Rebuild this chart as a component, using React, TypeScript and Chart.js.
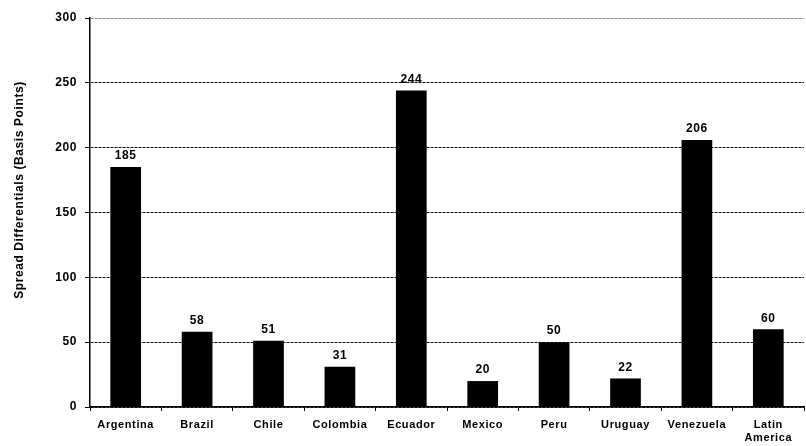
import React, { useEffect, useRef } from "react";
import { Chart, registerables } from "chart.js";

Chart.register(...registerables);

const categories: (string | string[])[] = [
  "Argentina",
  "Brazil",
  "Chile",
  "Colombia",
  "Ecuador",
  "Mexico",
  "Peru",
  "Uruguay",
  "Venezuela",
  ["Latin", "America"],
];
const spreadValues = [185, 58, 51, 31, 244, 20, 50, 22, 206, 60];
const yTicks = [0, 50, 100, 150, 200, 250, 300];
const yTitle = "Spread Differentials (Basis Points)";

const FONT = "'Liberation Sans', Arial, sans-serif";

// Slightly wider letter spacing for all chart text
const textSpacing = {
  id: "textSpacing",
  beforeDraw(chart: any) {
    (chart.ctx as any).letterSpacing = "0.6px";
  },
};

// Value labels above each bar
const valueLabels = {
  id: "valueLabels",
  afterDatasetsDraw(chart: any) {
    const ctx = chart.ctx;
    const meta = chart.getDatasetMeta(0);
    ctx.save();
    ctx.fillStyle = "#000";
    ctx.font = `bold 12px ${FONT}`;
    ctx.textAlign = "center";
    ctx.textBaseline = "bottom";
    meta.data.forEach((bar: any, i: number) => {
      ctx.fillText(String(spreadValues[i]), bar.x, bar.y - 5);
    });
    ctx.restore();
  },
};

// Rotated y-axis title
const axisTitle = {
  id: "axisTitle",
  afterDraw(chart: any) {
    const ctx = chart.ctx;
    ctx.save();
    ctx.translate(20, 190);
    ctx.rotate(-Math.PI / 2);
    ctx.fillStyle = "#000";
    ctx.font = `bold 12px ${FONT}`;
    ctx.textAlign = "center";
    ctx.textBaseline = "middle";
    ctx.fillText(yTitle, 0, 0);
    ctx.restore();
  },
};

export default function App() {
  const canvasRef = useRef<HTMLCanvasElement | null>(null);

  useEffect(() => {
    if (!canvasRef.current) return;
    const chart = new Chart(canvasRef.current, {
      type: "bar",
      data: {
        labels: categories,
        datasets: [
          {
            data: spreadValues,
            backgroundColor: "#000",
            borderWidth: 0,
            categoryPercentage: 1,
            barPercentage: 0.43,
          },
        ],
      },
      options: {
        animation: false,
        responsive: false,
        maintainAspectRatio: false,
        layout: { padding: { top: 18, right: 2, left: 0, bottom: 0 } },
        plugins: {
          legend: { display: false },
          tooltip: { enabled: false },
        },
        scales: {
          x: {
            offset: true,
            grid: {
              offset: true,
              drawOnChartArea: false,
              drawTicks: true,
              tickLength: 4,
              color: "#000",
            },
            border: { display: true, color: "#000", width: 1.5 },
            ticks: {
              color: "#000",
              font: { family: FONT, size: 11, weight: "bold" },
              padding: 7,
              maxRotation: 0,
              autoSkip: false,
            },
            afterFit(scale: any) {
              scale.height = 39;
            },
          },
          y: {
            min: 0,
            max: 300,
            afterBuildTicks(scale: any) {
              scale.ticks = yTicks.map((v) => ({ value: v }));
            },
            grid: {
              color: (c: any) => (c.tick && c.tick.value === 300 ? "#888" : "#111"),
              lineWidth: 1,
              tickLength: 5,
              tickColor: "#000",
            },
            border: { display: true, color: "#000", width: 1.5, dash: [3, 1] },
            ticks: {
              color: "#000",
              font: { family: FONT, size: 12, weight: "bold" },
              padding: 8,
            },
            afterFit(scale: any) {
              scale.width = 90;
            },
          },
        },
      },
      plugins: [textSpacing, valueLabels, axisTitle],
    });
    return () => chart.destroy();
  }, []);

  return (
    <div style={{ position: "absolute", left: 0, top: 0, width: 806, height: 446, background: "#fff" }}>
      <canvas ref={canvasRef} width={806} height={446} />
    </div>
  );
}
